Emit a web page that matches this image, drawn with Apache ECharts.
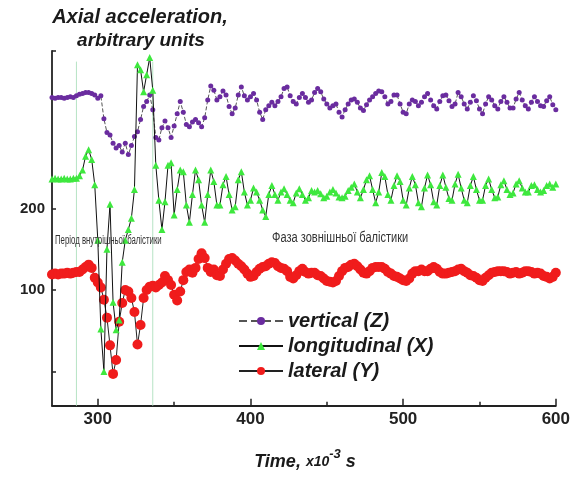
<!DOCTYPE html>
<html><head><meta charset="utf-8">
<script src="https://cdn.jsdelivr.net/npm/echarts@6/dist/echarts.min.js"></script>
<style>html,body{margin:0;padding:0;background:#fff}#c{width:573px;height:477px}</style>
</head><body><div id="c"></div>
<script>
// time, x10^-3 s
const timeMs = [270,272,274,276,278,280,282,284,286,288,290,292,294,296,298,300,302,304,306,308,310,312,314,316,318,320,322,324,326,328,330,332,334,336,338,340,342,344,346,348,350,352,354,356,358,360,362,364,366,368,370,372,374,376,378,380,382,384,386,388,390,392,394,396,398,400,402,404,406,408,410,412,414,416,418,420,422,424,426,428,430,432,434,436,438,440,442,444,446,448,450,452,454,456,458,460,462,464,466,468,470,472,474,476,478,480,482,484,486,488,490,492,494,496,498,500,502,504,506,508,510,512,514,516,518,520,522,524,526,528,530,532,534,536,538,540,542,544,546,548,550,552,554,556,558,560,562,564,566,568,570,572,574,576,578,580,582,584,586,588,590,592,594,596,598,600];

const verticalZ = [336,335,336,336,335,336,337,336,338,340,341,342,342,341,339,335,338,310,293,290,280,274,277,269,280,266,277,288,294,309,325,331,339,321,287,284,299,307,299,287,301,316,331,318,303,300,306,309,305,300,311,333,350,345,333,337,344,339,325,316,323,339,349,338,333,337,341,333,318,309,321,326,330,326,331,337,347,349,338,331,328,336,341,336,330,333,342,347,343,334,328,323,326,328,318,312,321,328,333,334,330,323,320,327,333,337,341,344,343,337,328,331,339,339,328,318,316,328,333,331,326,330,337,341,333,326,322,331,338,339,332,325,328,342,337,328,322,330,338,332,322,316,328,337,333,326,322,331,337,330,323,323,334,342,333,326,322,330,337,331,326,325,332,337,327,321];

const longitudinalX = [236,237,236,236,237,236,236,237,237,240,247,264,272,260,229,161,52,0,150,205,85,51,63,134,161,174,188,223,376,370,343,364,385,345,253,210,174,208,253,256,192,223,247,245,204,183,217,247,235,204,183,217,247,233,204,204,229,239,217,198,202,235,245,220,204,210,225,220,210,198,190,217,228,217,210,220,224,217,210,207,219,224,217,210,213,222,220,222,218,213,215,220,223,219,214,213,215,222,226,230,220,213,223,235,240,223,207,220,244,239,217,210,228,240,233,210,204,225,239,229,207,202,225,241,229,208,204,228,241,226,212,210,230,242,225,210,207,228,239,223,210,210,228,236,223,213,214,229,234,223,217,219,230,234,225,220,220,228,229,223,220,222,228,230,226,230];

const lateralY = [119,120,119,120,120,121,120,121,122,122,125,128,131,127,115,109,103,88,66,32,-3,14,61,84,100,98,90,73,33,57,90,100,104,105,103,106,109,117,112,106,94,87,98,112,122,125,121,127,138,145,139,127,122,125,118,117,125,132,138,139,136,132,129,125,120,116,117,122,126,128,129,132,134,133,129,127,126,123,116,114,118,123,126,122,120,121,121,118,117,114,111,110,109,111,117,123,127,128,131,132,129,125,121,120,123,127,128,128,128,126,122,120,117,116,114,112,111,114,120,123,123,125,123,123,126,128,126,122,120,120,121,122,123,125,126,123,121,118,117,115,112,111,115,118,121,122,123,123,123,122,120,121,122,120,121,123,123,122,120,121,120,117,116,114,116,121];

const seriesNames = ['vertical (Z)', 'longitudinal (X)', 'lateral (Y)'];
const phaseBoundaries = [286, 336];
const phaseLineTop = 380;
const xMajorTicks = [300, 400, 500, 600];
const xMinorTicks = [350, 450, 550];
const yTickValues = [0, 100, 200, 393];
const yLabelValues = [100, 200];

const FONT = "'Liberation Sans', Arial, sans-serif";
const pairs = (vals) => vals.map((v, i) => [timeMs[i], v]);

const chart = echarts.init(document.getElementById('c'), null, {renderer: 'canvas'});
const X_MIN = 270, X_MAX = 600, Y_MIN = -42, Y_MAX = 393;

const series = [];
phaseBoundaries.forEach((b) => {
  series.push({
    type: 'line', silent: true, symbol: 'none', z: 1,
    data: [[b, phaseLineTop], [b, Y_MIN]],
    lineStyle: {color: '#b6e3c4', width: 1}
  });
});
series.push({
  name: seriesNames[2], type: 'line', z: 3, data: pairs(lateralY),
  symbol: 'circle', symbolSize: 10, showAllSymbol: true,
  itemStyle: {color: '#f01c1c'},
  lineStyle: {color: '#222', width: 1}
});
series.push({
  name: seriesNames[0], type: 'line', z: 4, data: pairs(verticalZ),
  symbol: 'circle', symbolSize: 5, showAllSymbol: true,
  itemStyle: {color: '#6a2c9f'},
  lineStyle: {color: '#555', width: 1, type: 'dashed'}
});
series.push({
  name: seriesNames[1], type: 'line', z: 5, data: pairs(longitudinalX),
  symbol: 'triangle', symbolSize: 7, showAllSymbol: true,
  itemStyle: {color: '#3ee83e'},
  lineStyle: {color: '#111', width: 1}
});

chart.setOption({
  animation: false,
  backgroundColor: '#fff',
  grid: {left: 52, right: 15.5, top: 51, bottom: 71.3, containLabel: false},
  xAxis: [{
    type: 'value', min: X_MIN, max: X_MAX, position: 'bottom',
    axisLine: {onZero: false, lineStyle: {color: '#222', width: 1.8}},
    axisTick: {inside: true, length: 7, customValues: xMajorTicks, lineStyle: {color: '#222', width: 1.5}},
    axisLabel: {customValues: xMajorTicks, margin: 5, fontSize: 17, fontWeight: 'bold', color: '#222', fontFamily: FONT},
    splitLine: {show: false}
  }, {
    type: 'value', min: X_MIN, max: X_MAX, position: 'bottom',
    axisLine: {show: false, onZero: false},
    axisTick: {inside: true, length: 4, customValues: xMinorTicks, lineStyle: {color: '#222', width: 1.5}},
    axisLabel: {show: false},
    splitLine: {show: false}
  }],
  yAxis: {
    type: 'value', min: Y_MIN, max: Y_MAX,
    axisLine: {show: true, onZero: false, lineStyle: {color: '#222', width: 1.8}},
    axisTick: {show: true, inside: true, length: 4, customValues: yTickValues, lineStyle: {color: '#222', width: 1.5}},
    axisLabel: {customValues: yLabelValues, margin: 7, fontSize: 15, fontWeight: 'bold', color: '#222', fontFamily: FONT},
    splitLine: {show: false}
  },
  legend: {
    data: seriesNames, orient: 'vertical', left: 233, top: 306,
    itemWidth: 44, itemHeight: 10, itemGap: 5,
    textStyle: {fontSize: 20, fontWeight: 'bold', fontStyle: 'italic', color: '#1a1a1a', fontFamily: FONT, lineHeight: 20}
  },
  graphic: [
    {type: 'text', x: 140, y: 17, style: {text: 'Axial acceleration,', font: `italic bold 20px ${FONT}`, fill: '#1a1a1a', align: 'center', verticalAlign: 'middle'}},
    {type: 'text', x: 141, y: 41, style: {text: 'arbitrary units', font: `italic bold 19px ${FONT}`, fill: '#1a1a1a', align: 'center', verticalAlign: 'middle'}},
    {type: 'text', x: 55, y: 241, scaleX: 0.65, z: 10, style: {text: 'Період внутрішньої балістики', font: `12px ${FONT}`, fill: '#333', align: 'left', verticalAlign: 'middle'}},
    {type: 'text', x: 272, y: 238, scaleX: 0.79, z: 10, style: {text: 'Фаза зовнішньої балістики', font: `14px ${FONT}`, fill: '#333', align: 'left', verticalAlign: 'middle'}},
    {type: 'text', x: 305, y: 462, style: {
      text: '{a|Time, }{b|x10}{c|-3}{a| s}', align: 'center', verticalAlign: 'middle',
      rich: {
        a: {fontSize: 18, fontWeight: 'bold', fontStyle: 'italic', fontFamily: FONT, fill: '#1a1a1a', lineHeight: 28},
        b: {fontSize: 14, fontWeight: 'bold', fontStyle: 'italic', fontFamily: FONT, fill: '#1a1a1a', lineHeight: 28},
        c: {fontSize: 13, fontWeight: 'bold', fontStyle: 'italic', fontFamily: FONT, fill: '#1a1a1a', lineHeight: 13, verticalAlign: 'top'}
      }
    }}
  ],
  series: series
});
</script></body></html>
